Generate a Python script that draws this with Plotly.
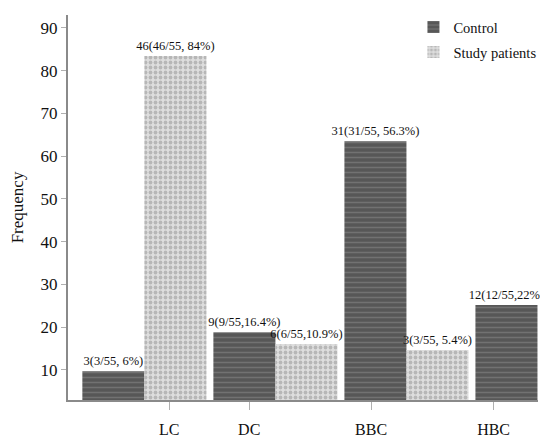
import plotly.graph_objects as go

categories = ["LC", "DC", "BBC", "HBC"]
control_values = [9.7, 18.8, 63.5, 25.2]
study_values = [83.4, 16.1, 14.7, None]
control_labels = ["3(3/55, 6%)", "9(9/55,16.4%)", "31(31/55, 56.3%)", "12(12/55,22%)"]
study_labels = ["46(46/55, 84%)", "6(6/55,10.9%)", "3(3/55, 5.4%)", ""]
y_ticks = [10, 20, 30, 40, 50, 60, 70, 80, 90]

FONT = "Liberation Serif, Times New Roman, serif"
idx = list(range(len(categories)))

fig = go.Figure()
fig.add_trace(go.Bar(
    x=idx, y=control_values, name="Control", legendgroup="c",
    text=control_labels, textposition="outside", constraintext="none",
    textfont=dict(family=FONT, size=12.5, color="#111"),
    marker=dict(color="#5f5f5f", line=dict(width=0),
                pattern=dict(shape="-", fgcolor="#8e8e8e", bgcolor="#575757",
                             size=5, solidity=0.3)),
    cliponaxis=False,
))
fig.add_trace(go.Bar(
    x=idx, y=study_values, name="Study patients", legendgroup="s",
    text=study_labels, textposition="outside", constraintext="none",
    textfont=dict(family=FONT, size=12.5, color="#111"),
    marker=dict(color="#d2d2d2", line=dict(width=0),
                pattern=dict(shape=".", fgcolor="#8f8f8f", bgcolor="#dedede",
                             size=5, solidity=0.45)),
    cliponaxis=False,
))

# page body has an 8px default margin, so the figure is sized to fit inside it
fig.update_layout(
    width=540, height=429,
    margin=dict(l=60, r=10, t=7, b=37, autoexpand=False),
    paper_bgcolor="white", plot_bgcolor="white",
    barmode="group", bargap=0.053, bargroupgap=0,
    font=dict(family=FONT, color="#111"),
    showlegend=True,
    legend=dict(x=0.735, y=1.01, xanchor="left", yanchor="top",
                font=dict(family=FONT, size=14.5), bgcolor="rgba(0,0,0,0)",
                tracegroupgap=3),
)
fig.update_xaxes(
    range=[-0.583, 3.004], automargin=False,
    tickmode="array", tickvals=[0.19, 0.80, 1.73, 2.665], ticktext=categories,
    showline=True, linecolor="#8a8a8a", linewidth=2,
    ticks="outside", ticklen=8, tickcolor="#b0b0b0", tickwidth=1,
    tickfont=dict(family=FONT, size=16, color="#111"),
    ticklabelstandoff=6,
    showgrid=False, zeroline=False,
)
fig.update_yaxes(
    range=[2.98, 93], automargin=False,
    tickmode="array", tickvals=y_ticks,
    showline=True, linecolor="#8a8a8a", linewidth=2,
    ticks="outside", ticklen=5, tickcolor="#b0b0b0", tickwidth=1,
    tickfont=dict(family=FONT, size=17, color="#111"),
    title=dict(text="Frequency", font=dict(family=FONT, size=17, color="#111"), standoff=14),
    showgrid=False, zeroline=False,
)

fig.write_html("out.html")
